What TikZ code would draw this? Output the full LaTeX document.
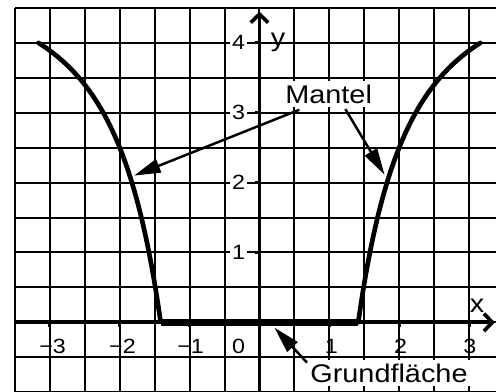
\documentclass[tikz,border=0pt]{standalone}
\usepackage{fontspec}
\setmainfont[FakeStretch=1.13]{Liberation Sans}
\usetikzlibrary{arrows.meta}
\begin{document}
\begin{tikzpicture}[
  gridline/.style={line width=0.8pt},
  axisline/.style={line width=1.5pt, -{Straight Barb[length=0.12cm,width=0.25cm]}},
  tickline/.style={line width=1.2pt},
  curveline/.style={line width=1.9pt, line cap=round},
  bottomline/.style={line width=2.6pt},
  ptr/.style={line width=1pt, -{Triangle[length=0.38cm,width=0.2cm]}},
  num/.style={font=\fontsize{8.4}{10}\selectfont, inner sep=0pt},
  ynum/.style={num, fill=white, inner sep=1pt},
  lbl/.style={font=\fontsize{10.4}{12}\selectfont, inner sep=0pt},
  tag/.style={lbl, fill=white, inner sep=1.5pt, anchor=base},
]
\useasboundingbox (-3.714,-0.986) rectangle (3.386,4.614);
\clip (-3.714,-0.986) rectangle (3.386,4.614);
% grid
\draw[gridline, step=0.5cm] (-3.5,-1) grid (3.5,4.5);
% axes
\coordinate (xl) at (-3.5,0);
\coordinate (xr) at (3.37,0);
\coordinate (yb) at (0,-1.1);
\coordinate (yt) at (0,4.447);
\draw[axisline] (xl) -- (xr);
\draw[axisline] (yb) -- (yt);
\foreach \i in {-3,-2,-1,1,2,3} \draw[tickline] (\i,0) -- (\i,-0.065);
\foreach \j in {1,...,4} \draw[tickline] (0,\j) -- (-0.065,\j);
% Mantel curve and base
\draw[curveline] plot[domain=-3.1623:-1.4142, samples=120] (\x,{5-10/(\x*\x)});
\draw[curveline] plot[domain=1.4142:3.1623, samples=120] (\x,{5-10/(\x*\x)});
\draw[bottomline] (-1.4142,0) -- (1.4142,0);
% y numbers
\node[ynum] (y1) at (-0.3,1) {1};
\node[ynum] (y2) at (-0.3,2) {2};
\node[ynum] (y3) at (-0.3,3) {3};
\node[ynum] (y4) at (-0.3,4) {4};
% x numbers
\node[num] (xm3) at (-2.96,-0.35) {−3};
\node[num] (xm2) at (-1.96,-0.35) {−2};
\node[num] (xm1) at (-0.986,-0.35) {−1};
\node[num] (x0) at (-0.30,-0.35) {0};
\node[num] (x1) at (1.03,-0.35) {1};
\node[num] (x2) at (2.02,-0.35) {2};
\node[num] (x3) at (3.01,-0.35) {3};
% axis labels
\node[lbl, anchor=base west] (xlab) at (3.004,0.139) {x};
\node[lbl, anchor=base west] (ylab) at (0.157,3.947) {y};
% labels
\node[tag] (mantel) at (0.99,3.139) {Mantel};
\node[tag] (grund) at (1.854,-0.861) {Grundfläche};
% pointers
\coordinate (m1) at (0.571,3.043);
\coordinate (t1) at (-1.795,2.10);
\coordinate (m2) at (1.229,3.053);
\coordinate (t2) at (1.79,2.114);
\coordinate (g1) at (0.681,-0.576);
\coordinate (tg) at (0.214,-0.076);
\draw[ptr] (m1) -- (t1);
\draw[ptr] (m2) -- (t2);
\draw[ptr] (g1) -- (tg);
\end{tikzpicture}
\end{document}
